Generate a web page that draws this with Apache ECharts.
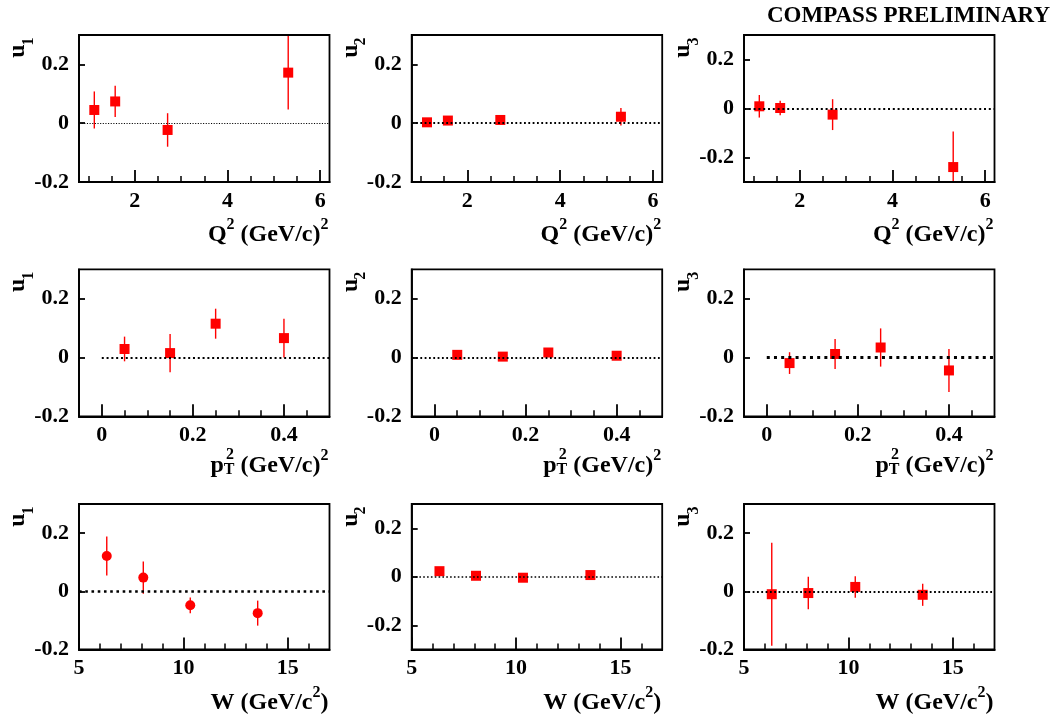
<!DOCTYPE html>
<html><head><meta charset="utf-8">
<script src="https://cdn.jsdelivr.net/npm/echarts@6/dist/echarts.min.js"></script>
<style>html,body{margin:0;padding:0;background:#fff}#c{width:1054px;height:715px}</style>
</head><body><div id="c"></div>
<script>
// ---------- data ----------
const q2X = [1.13, 1.58, 2.71, 5.31];
const q2U1 = [0.045, 0.074, -0.023, 0.172];
const q2U1Err = [0.063, 0.053, 0.057, 0.125];
const q2U2 = [0.003, 0.009, 0.011, 0.022];
const q2U2Err = [0.004, 0.004, 0.004, 0.030];
const q2U3 = [0.009, 0.002, -0.025, -0.239];
const q2U3Err = [0.046, 0.030, 0.063, 0.145];

const ptX = [0.05, 0.15, 0.25, 0.40];
const ptU1 = [0.029, 0.015, 0.115, 0.066];
const ptU1Err = [0.042, 0.065, 0.051, 0.066];
const ptU2 = [0.009, 0.003, 0.017, 0.006];
const ptU2Err = [0.004, 0.004, 0.004, 0.004];
const ptU3 = [-0.019, 0.012, 0.034, -0.044];
const ptU3Err = [0.037, 0.051, 0.065, 0.073];

const wX = [6.33, 8.08, 10.33, 13.56];
const wU1 = [0.121, 0.047, -0.048, -0.075];
const wU1Err = [0.067, 0.055, 0.027, 0.043];
const wU2 = [0.023, 0.004, -0.004, 0.007];
const wU2Err = [0.004, 0.004, 0.004, 0.004];
const wU3 = [-0.010, -0.006, 0.015, -0.012];
const wU3Err = [0.177, 0.056, 0.037, 0.038];

// tick values
const yTicks = [-0.2, 0, 0.2];
const q2Major = [2, 4, 6];
const q2Minor = [1, 1.5, 2.5, 3, 3.5, 4.5, 5, 5.5];
const ptMajor = [0, 0.2, 0.4];
const ptMinor = [0.05, 0.1, 0.15, 0.25, 0.3, 0.35, 0.45];
const wMajor = [5, 10, 15];
const wMinor = [6, 7, 8, 9, 11, 12, 13, 14, 16];

const yNames = ['1', '2', '3'];
const titleText = 'COMPASS PRELIMINARY';

// ---------- layout ----------
const FONT = '"Liberation Serif", "Times New Roman", serif';
const colLeft = [79, 411.7, 744];
const rowTop = [35, 269.3, 504];
const rowH = [147, 147, 145.5];
const W = 250.5;

const xCfg = {
  q2: {min: 0.8, max: 6.2, major: q2Major, minor: q2Minor},
  pt: {min: -0.05, max: 0.5, major: ptMajor, minor: ptMinor},
  w:  {min: 5, max: 17, major: wMajor, minor: wMinor}
};

const panels = [
  {r:0,c:0,x:q2X,y:q2U1,e:q2U1Err,ax:'q2',ymin:-0.2,sym:'rect',lw:1.1,start:null},
  {r:0,c:1,x:q2X,y:q2U2,e:q2U2Err,ax:'q2',ymin:-0.2,sym:'rect',lw:1.8,start:null},
  {r:0,c:2,x:q2X,y:q2U3,e:q2U3Err,ax:'q2',ymin:-0.3,sym:'rect',lw:2,start:null},
  {r:1,c:0,x:ptX,y:ptU1,e:ptU1Err,ax:'pt',ymin:-0.2,sym:'rect',lw:2,start:0},
  {r:1,c:1,x:ptX,y:ptU2,e:ptU2Err,ax:'pt',ymin:-0.2,sym:'rect',lw:1.8,start:null},
  {r:1,c:2,x:ptX,y:ptU3,e:ptU3Err,ax:'pt',ymin:-0.2,sym:'rect',lw:3,start:0},
  {r:2,c:0,x:wX,y:wU1,e:wU1Err,ax:'w',ymin:-0.2,sym:'circle',lw:2.6,start:null},
  {r:2,c:1,x:wX,y:wU2,e:wU2Err,ax:'w',ymin:-0.3,sym:'rect',lw:1.6,start:null},
  {r:2,c:2,x:wX,y:wU3,e:wU3Err,ax:'w',ymin:-0.2,sym:'rect',lw:1.8,start:null}
];

const grid = [], xAxis = [], yAxis = [], series = [], graphic = [];
const labelStyle = {color:'#000', fontFamily: FONT, fontWeight:'bold', fontSize: 22};
const frameLine = {show:true, onZero:false, lineStyle:{color:'#000', width:1.8}};

panels.forEach((p, i) => {
  const cfg = xCfg[p.ax];
  const left = colLeft[p.c], top = rowTop[p.r], h = rowH[p.r];
  grid.push({left:left, top:top, width:W, height:h, show:true, borderColor:'#000', borderWidth:1.8, backgroundColor:'transparent', z:0});
  // main x axis (major ticks + labels)
  xAxis.push({type:'value', gridIndex:i, min:cfg.min, max:cfg.max, position:'bottom', z:5,
    axisLine:frameLine, splitLine:{show:false},
    axisTick:{show:true, inside:true, length:12, customValues:cfg.major, lineStyle:{color:'#000', width:1.8}},
    axisLabel:{show:true, margin:8, customValues:cfg.major, ...labelStyle, formatter: v => String(v)}
  });
  // minor x ticks
  xAxis.push({type:'value', gridIndex:i, min:cfg.min, max:cfg.max, position:'bottom', offset:0, z:5,
    axisLine:frameLine, splitLine:{show:false}, axisLabel:{show:false},
    axisTick:{show:true, inside:true, length:6, customValues:cfg.minor, lineStyle:{color:'#000', width:1.5}}
  });
  yAxis.push({type:'value', gridIndex:i, min:p.ymin, max:0.3, position:'left', z:5,
    axisLine:frameLine, splitLine:{show:false},
    axisTick:{show:true, inside:true, length:6, customValues:yTicks, lineStyle:{color:'#000', width:1.8}},
    axisLabel:{show:true, margin:10, customValues:yTicks, ...labelStyle, formatter: v => (Math.abs(v) < 1e-9 ? '0' : v.toFixed(1))}
  });
  const xi = 2*i;
  const lineData = p.start === null ? [{yAxis:0}] : [[{coord:[p.start, 0]}, {coord:[cfg.max, 0]}]];
  series.push({
    type:'custom', xAxisIndex:xi, yAxisIndex:i, z:2,
    data: p.x.map((xv, k) => [xv, p.y[k], p.e[k]]),
    renderItem: (params, api) => {
      const xv = api.value(0), yv = api.value(1), ev = api.value(2);
      const a = api.coord([xv, yv + ev]), b = api.coord([xv, yv - ev]);
      const cs = params.coordSys;
      const y1 = Math.max(cs.y, Math.min(cs.y + cs.height, a[1]));
      const y2 = Math.max(cs.y, Math.min(cs.y + cs.height, b[1]));
      return {type:'line', shape:{x1:a[0], y1:y1, x2:b[0], y2:y2}, style:{stroke:'#ff0000', lineWidth:1.4}};
    },
    markLine:{silent:true, symbol:['none','none'], label:{show:false},
      lineStyle:{color:'#000', type:[p.lw, p.lw*1.4], width:p.lw}, data:lineData, animation:false}
  });
  series.push({
    type:'scatter', xAxisIndex:xi, yAxisIndex:i, z:3,
    symbol:p.sym, symbolSize:10, itemStyle:{color:'#ff0000', opacity:1},
    data: p.x.map((xv, k) => [xv, p.y[k]])
  });
  // y axis name: u with subscript (rotated)
  graphic.push({type:'text', x:left-61, y:top+16, rotation:Math.PI/2,
    style:{text:'u', font:'bold 24px ' + FONT, fill:'#000', align:'center', verticalAlign:'middle'}});
  graphic.push({type:'text', x:left-50.5, y:top+6.5, rotation:Math.PI/2,
    style:{text:yNames[p.c], font:'bold 16px ' + FONT, fill:'#000', align:'center', verticalAlign:'middle'}});
});

// x axis titles
const rich = {
  m:{fontFamily:FONT, fontWeight:'bold', fontSize:24, color:'#000', verticalAlign:'bottom', lineHeight:30},
  sup:{fontFamily:FONT, fontWeight:'bold', fontSize:16, color:'#000', verticalAlign:'top', lineHeight:30},
  sub:{fontFamily:FONT, fontWeight:'bold', fontSize:16, color:'#000', verticalAlign:'bottom', lineHeight:24}
};
const titleY = [232, 463, 700];
const titleTexts = ['{m|Q}{sup|2}{m| (GeV/c)}{sup|2}', '{m|p}{sub|T}{m| (GeV/c)}{sup|2}', '{m|W (GeV/c}{sup|2}{m|)}'];
for (let r = 0; r < 3; r++) {
  for (let c = 0; c < 3; c++) {
    const right = colLeft[c] + W - 1;
    graphic.push({type:'text', x:right, y:titleY[r],
      style:{text:titleTexts[r], rich:rich, align:'right', verticalAlign:'middle'}});
    if (r === 1) {
      graphic.push({type:'text', x:colLeft[c] + 151, y:titleY[r] - 8,
        style:{text:'2', font:'bold 16px ' + FONT, fill:'#000', align:'center', verticalAlign:'middle'}});
    }
  }
}
graphic.push({type:'text', x:1050, y:16,
  style:{text:titleText, font:'bold 23px ' + FONT, fill:'#000', align:'right', verticalAlign:'middle'}});

const chart = echarts.init(document.getElementById('c'), null, {renderer:'canvas'});
chart.setOption({animation:false, backgroundColor:'#fff', grid, xAxis, yAxis, series, graphic});
</script></body></html>
